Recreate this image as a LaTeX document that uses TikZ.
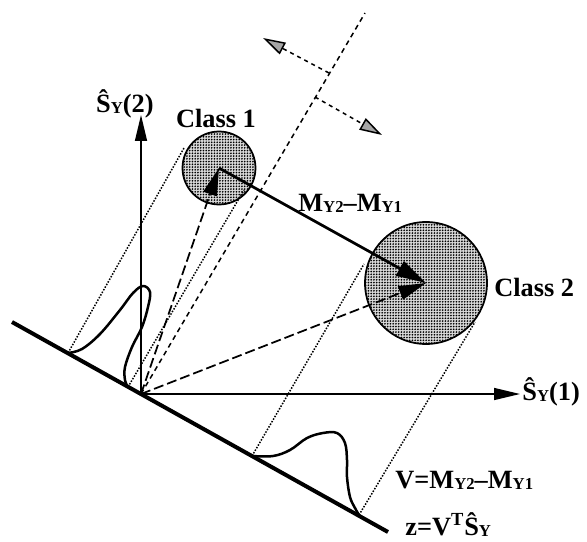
\documentclass[tikz,border=0pt]{standalone}
\usepackage{fontspec}
\setmainfont{Liberation Serif}
\usepackage{tikz}
\usetikzlibrary{arrows.meta,calc,patterns.meta}

\newcommand{\lo}[1]{\raisebox{-1pt}{\fontsize{9.5}{9.5}\selectfont #1}}

\begin{document}
\begin{tikzpicture}[x=0.02cm,y=-0.02cm,font=\fontsize{15}{17}\selectfont\bfseries,
  axis/.style={line width=0.3mm,-{Triangle[length=5.2mm,width=2.4mm]}},
  proj/.style={line width=0.8mm},
  bell/.style={line width=0.5mm,line join=round},
  cls/.style={circle,draw,line width=0.35mm,inner sep=0pt,preaction={fill=gray!30},
    pattern={Dots[distance=0.55mm,radius=0.19mm]}},
  toc/.style={line width=0.35mm,dash pattern=on 2mm off 0.8mm,-{Triangle[length=5.5mm,width=2.8mm]}},
  perp/.style={line width=0.3mm,dash pattern=on 0.3mm off 0.3mm},
  sep/.style={line width=0.3mm,dash pattern=on 1mm off 0.8mm},
  dir/.style={line width=0.3mm,dash pattern=on 0.8mm off 0.8mm,-{Triangle[length=4.5mm,width=2.6mm,fill=gray!70]}},
  lbl/.style={inner sep=0pt}]
  \useasboundingbox (0,0) rectangle (587,541);
  % the two classes
  \node[cls,minimum size=14.6mm] (c1) at (219,168) {};
  \node[cls,minimum size=24.4mm] (c2) at (426,283) {};
  \coordinate (O) at (141,394);
  \coordinate (pa) at (12,322);
  \coordinate (pb) at (388,532);
  \coordinate (x1) at (520,394);
  \coordinate (x2) at (141,115);
  \coordinate (top) at (365,13);
  % feet on the projection line and ends on the circles
  \coordinate (f1) at (68,353);  \coordinate (t1) at (184,148);
  \coordinate (f2) at (128,387); \coordinate (t2) at (244,190);
  \coordinate (f3) at (252,456); \coordinate (t3) at (364,264);
  \coordinate (f4) at (359,515); \coordinate (t4) at (475,322);
  \foreach \f/\t in {f1/t1,f2/t2,f3/t3,f4/t4}
    \draw[perp] (\f) -- (\t);
  \draw[axis] (O) -- (x1);
  \draw[axis] (O) -- (x2);
  \draw[proj] (pa) -- (pb);
  \draw[bell] plot[smooth,tension=0.6] coordinates {(68,353) (82,349) (100,334) (120,310) (133,293) (143,286) (150,292) (148,307) (142,327) (132,347) (125,367) (125,380) (128,387)};
  \draw[bell] plot[smooth,tension=0.6] coordinates {(252,456) (273,456) (290,450) (307,438) (323,433) (337,433) (345,443) (347,460) (347,477) (350,497) (355,508) (359,515)};
  \draw[sep] (O) -- (top);
  \draw[toc] (O) -- (c1.center);
  \draw[toc] (O) -- (c2.center);
  \draw[line width=0.55mm,-{Triangle[length=6mm,width=3.2mm]}] (c1.center) -- (c2.center);
  % direction of the discriminant
  \coordinate (s1) at (329,73); \coordinate (d1) at (263,38);
  \coordinate (s2) at (315,97); \coordinate (d2) at (382,135);
  \draw[dir] (s1) -- (d1);
  \draw[dir] (s2) -- (d2);
  % labels
  \node[lbl,anchor=base east] (ylab) at (154,112) {Ŝ\lo{Y}(2)};
  \node[lbl,anchor=base] (c1lab) at (216,127) {Class 1};
  \node[lbl,anchor=base west] (mlab) at (298,211) {M\lo{Y2}–M\lo{Y1}};
  \node[lbl,anchor=base west] (c2lab) at (494,296) {Class 2};
  \node[lbl,anchor=base west] (xlab) at (522,400) {Ŝ\lo{Y}(1)};
  \node[lbl,anchor=base west] (vlab) at (395,488) {V=M\lo{Y2}–M\lo{Y1}};
  \node[lbl,anchor=base west] (zlab) at (405,535) {z=V\textsuperscript{T}Ŝ\lo{Y}};
\end{tikzpicture}
\end{document}
